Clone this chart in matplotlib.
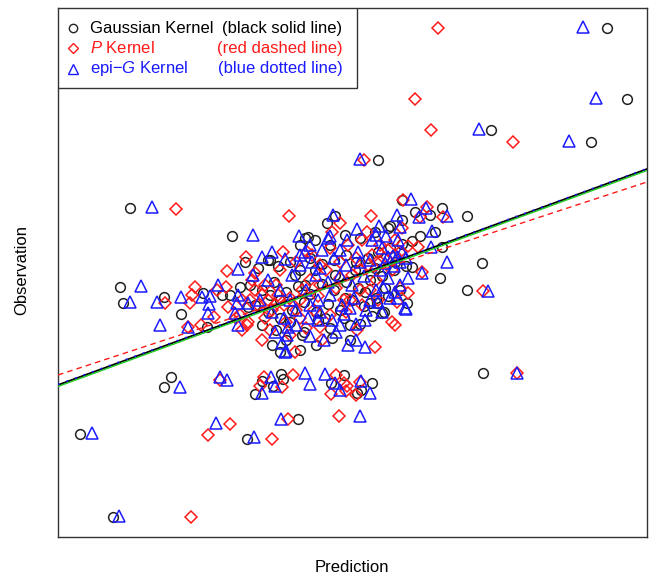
import numpy as np
import matplotlib
matplotlib.use('Agg')
import matplotlib.pyplot as plt
from matplotlib.patches import Rectangle

plt.rcParams['font.family'] = ['Liberation Sans', 'DejaVu Sans']
plt.rcParams['mathtext.fontset'] = 'custom'
plt.rcParams['mathtext.it'] = 'Liberation Sans:italic'
plt.rcParams['mathtext.rm'] = 'Liberation Sans'

# Gaussian kernel (black circles): prediction / observation
gauss_x = [549, 569, 433, 533, 320, 22, 55, 106, 113, 197, 204, 223, 225, 215, 273, 286, 299, 303, 314,
           189, 240, 269, 277, 250, 257, 349, 354, 382, 409, 384, 377, 384, 409, 424, 425, 344,
           182, 190, 172, 164, 145, 149, 123, 106, 65, 62, 72, 174, 212, 222, 244, 292, 312, 319, 324,
           187, 200, 210, 220, 232, 242, 252, 264, 276, 288, 298, 310, 320, 332, 344, 354, 362,
           192, 204, 216, 228, 240, 252, 264, 276, 288, 300, 312, 324, 336, 348,
           197, 210, 222, 234, 246, 258, 270, 282, 294, 306, 318, 330, 342,
           204, 218, 232, 246, 260, 272, 286, 302, 314, 326,
           214, 228, 242, 258, 274,
           242, 272, 287, 302, 317, 332, 344, 357, 372, 330, 247,
           237, 257, 277, 297, 317, 337, 247, 287, 307, 327, 267, 292, 222, 212]
gauss_y = [509, 438, 407, 395, 377, 103, 20, 150, 160, 143, 156, 163, 158, 151, 154, 162, 144, 147, 154,
           98, 118, 314, 321, 300, 297, 234, 270, 259, 247, 290, 305, 329, 321, 274, 164, 337,
           250, 230, 242, 242, 244, 210, 223, 240, 234, 250, 329, 301, 277, 185, 202, 197, 234, 234, 224,
           275, 269, 277, 271, 275, 267, 279, 273, 277, 282, 275, 279, 285, 289, 293, 296, 301,
           252, 247, 255, 245, 251, 243, 253, 247, 255, 249, 257, 261, 267, 271,
           232, 225, 237, 227, 235, 225, 233, 227, 237, 231, 239, 241, 247,
           212, 207, 215, 205, 217, 209, 219, 213, 221, 225,
           192, 197, 187, 192, 199,
           292, 292, 302, 299, 305, 311, 317, 325, 322, 309, 299,
           262, 267, 262, 267, 269, 275, 252, 239, 245, 249, 219, 212, 219, 242]

# P kernel (red diamonds)
p_x = [380, 357, 373, 455, 306, 118, 231, 282, 313, 274, 188, 225, 249, 169, 197, 137, 132, 134, 107,
       143, 130, 159, 168, 156, 170, 182, 184, 189, 150, 133, 172, 162, 206, 202, 224, 235, 230, 214,
       273, 278, 286, 289, 288, 298, 302, 281, 459, 425, 345, 362, 385, 369, 360, 364, 350, 339, 342,
       334, 337, 299, 262, 264, 237, 317, 309, 344,
       197, 204, 210, 200, 214, 207, 220, 226, 192, 218, 232, 238, 244, 252, 260, 268, 278, 286, 294,
       302, 310, 318, 326, 334, 342, 350, 222, 238, 254, 272, 290, 304, 228, 242, 256, 272, 288, 304,
       320, 194, 212, 232, 248, 204, 322, 337, 262, 282, 298, 314, 330, 184, 178, 190,
       242, 262, 282, 302, 322, 337, 217, 207, 292, 312]
p_y = [509, 438, 407, 395, 377, 328, 321, 314, 321, 305, 280, 285, 285, 266, 264, 250, 234, 242, 234,
       212, 210, 247, 250, 220, 230, 222, 207, 212, 102, 20, 113, 157, 160, 151, 150, 162, 118, 98,
       143, 162, 154, 151, 146, 142, 155, 121, 164, 246, 337, 320, 320, 330, 290, 265, 244, 235, 249,
       215, 212, 207, 210, 197, 185, 190, 305, 309,
       247, 242, 237, 232, 227, 219, 242, 232, 237, 252, 239, 227, 247, 257, 241, 267, 249, 237, 262,
       247, 272, 257, 279, 267, 285, 291, 267, 275, 282, 289, 292, 297, 215, 219, 227, 222, 225, 232,
       237, 257, 207, 202, 209, 197, 292, 297, 272, 275, 279, 282, 287, 237, 219, 215,
       237, 252, 259, 267, 275, 282, 232, 252, 237, 247]

# epi-G kernel (blue triangles)
epi_x = [525, 538, 421, 511, 302, 94, 275, 270, 195, 241, 204, 214, 227, 247, 180, 195, 83, 72, 99,
         123, 102, 130, 160, 152, 151, 150, 144, 180, 179, 177, 180, 190, 217, 230, 224, 227,
         34, 61, 122, 162, 169, 204, 213, 217, 247, 252, 267, 277, 282, 303, 312, 158, 196, 223, 302,
         459, 430, 353, 368, 389, 361, 374, 373, 389, 364, 350, 348, 339, 321, 342, 299, 318, 289,
         307, 282, 260, 298, 307, 229, 228, 324, 340, 347, 325, 339, 335, 330, 327, 340, 344,
         242, 254, 264, 276, 288, 300, 312, 324, 336, 348, 258, 270, 282, 294, 306, 318, 330, 342,
         248, 260, 272, 284, 296, 308, 320, 332, 238, 250, 262, 274, 286, 298, 210, 222, 234, 202,
         214, 226, 238, 252, 266, 278, 290, 314, 328, 252, 272,
         242, 262, 282, 302, 322, 342, 232, 252, 292, 312, 337]
epi_y = [510, 439, 408, 396, 378, 330, 322, 299, 302, 301, 280, 285, 278, 285, 268, 262, 251, 235, 235,
         240, 212, 210, 252, 241, 233, 224, 240, 242, 234, 224, 212, 234, 205, 210, 194, 185,
         104, 21, 150, 160, 157, 144, 160, 151, 164, 153, 163, 154, 147, 156, 144, 114, 100, 118, 121,
         164, 246, 338, 329, 321, 320, 306, 290, 275, 264, 259, 228, 322, 311, 310, 308, 302, 297,
         217, 212, 217, 197, 190, 202, 186, 225, 239, 229, 250, 280, 281, 280, 274, 297, 285,
         282, 275, 287, 279, 272, 285, 277, 289, 271, 279, 262, 255, 262, 252, 261, 247, 259, 252,
         247, 237, 242, 232, 239, 227, 235, 239, 227, 219, 225, 217, 223, 213, 257, 247, 262, 237,
         225, 219, 212, 201, 197, 205, 192, 297, 301, 292, 301,
         272, 269, 287, 275, 267, 275, 237, 232, 229, 237, 245]

# fitted lines: intercept, slope
gauss_fit = (152, 0.3667)
p_fit = (162, 0.3277)
epi_fit = (152.5, 0.3665)
ref_fit = (150.5, 0.3667)

fig = plt.figure(figsize=(6.5, 5.76), dpi=100)
ax = fig.add_axes([58 / 650, 39 / 576, 589 / 650, 529 / 576])

ms = 7
ax.plot(gauss_x, gauss_y, 'o', ms=ms, mfc='none', mec='#222222', mew=1.1)
ax.plot(p_x, p_y, 'D', ms=ms - 1, mfc='none', mec='#ff1a1a', mew=1.1)
ax.plot(epi_x, epi_y, '^', ms=ms + 1, mfc='none', mec='#1a1aff', mew=1.1)

ax.axline((0, gauss_fit[0]), slope=gauss_fit[1], color='black', lw=1.3, zorder=5)
ax.axline((0, ref_fit[0]), slope=ref_fit[1], color='#22cc22', lw=1.0, zorder=5)
ax.axline((0, epi_fit[0]), slope=epi_fit[1], color='#1a1aff', lw=1.3, ls=(0, (1, 4)), zorder=6)
ax.axline((0, p_fit[0]), slope=p_fit[1], color='#ff1a1a', lw=1.0, ls=(0, (4, 3)), zorder=6)

ax.set_xlim(0, 589)
ax.set_ylim(0, 529)
ax.set_xticks([])
ax.set_yticks([])
for s in ax.spines.values():
    s.set_color('#333333')
    s.set_linewidth(1.0)

# legend box
ax.add_patch(Rectangle((0, 0.849), 0.508, 0.151, transform=ax.transAxes,
                       facecolor='white', edgecolor='#333333', lw=1.0, zorder=10))
rows = [0.962, 0.924, 0.885]
fs = 12
ax.plot([0.026], [rows[0]], 'o', ms=6, mfc='none', mec='#222222', transform=ax.transAxes, zorder=11)
ax.plot([0.026], [rows[1]], 'D', ms=5, mfc='none', mec='#ff1a1a', transform=ax.transAxes, zorder=11)
ax.plot([0.026], [rows[2]], '^', ms=7, mfc='none', mec='#1a1aff', transform=ax.transAxes, zorder=11)
left, right = 0.054, 0.483
ax.text(left, rows[0], 'Gaussian Kernel', color='black', fontsize=fs, va='center', transform=ax.transAxes, zorder=11)
ax.text(right, rows[0], '(black solid line)', color='black', fontsize=fs, va='center', ha='right', transform=ax.transAxes, zorder=11)
ax.text(left, rows[1], '$P$ Kernel', color='#ff1a1a', fontsize=fs, va='center', transform=ax.transAxes, zorder=11)
ax.text(right, rows[1], '(red dashed line)', color='#ff1a1a', fontsize=fs, va='center', ha='right', transform=ax.transAxes, zorder=11)
ax.text(left, rows[2], 'epi\u2212$G$ Kernel', color='#1a1aff', fontsize=fs, va='center', transform=ax.transAxes, zorder=11)
ax.text(right, rows[2], '(blue dotted line)', color='#1a1aff', fontsize=fs, va='center', ha='right', transform=ax.transAxes, zorder=11)

fig.text(352 / 650, 1 - 568 / 576, 'Prediction', fontsize=12, ha='center', va='center')
fig.text(22 / 650, 1 - 270 / 576, 'Observation', fontsize=12, ha='center', va='center', rotation=90)

fig.savefig('out.png', dpi=100)
